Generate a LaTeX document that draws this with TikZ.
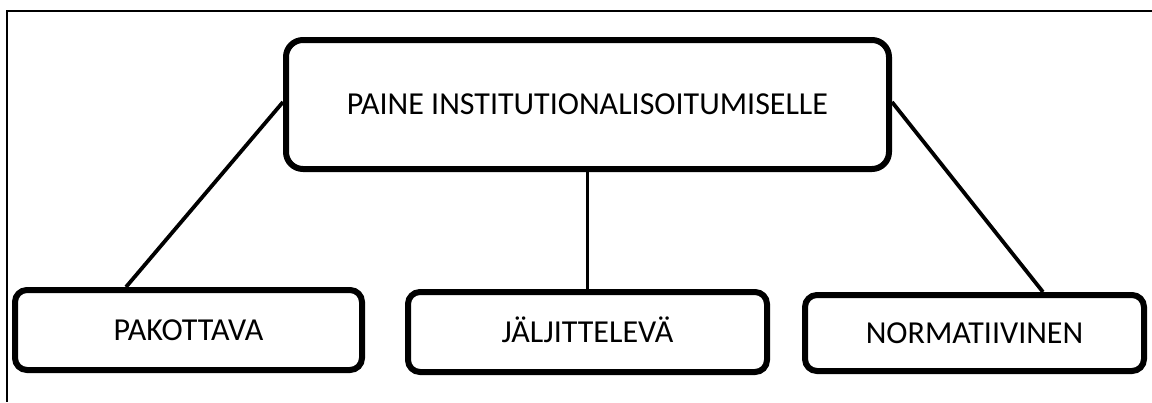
\documentclass[tikz,border=0pt]{standalone}
\usepackage{fontspec}
\setmainfont{Carlito}
\begin{document}
\begin{tikzpicture}[x=1pt,y=-1pt,
  box/.style={draw=black,line width=6pt,rounded corners=#1,inner sep=0pt,
    text height=20pt,text depth=0pt,font=\fontsize{32}{38}\selectfont},
  box/.default=12pt,
  link/.style={draw=black,line width=3.8pt},
  frame/.style={draw=black,line width=2.5pt}]
\useasboundingbox (0,0) rectangle (1152,402);

% outer frame (top and left edges)
\coordinate (fr1) at (1152,11);
\coordinate (fr2) at (7,11);
\coordinate (fr3) at (7,402);
\draw[frame] (fr1) -- (fr2) -- (fr3);

% boxes
\node[box=17pt,minimum width=603pt,minimum height=129pt] (top) at (587.5,104.5)
  {PAINE INSTITUTIONALISOITUMISELLE};
\node[box,minimum width=347pt,minimum height=80pt] (pak) at (188.5,330) {PAKOTTAVA};
\node[box,minimum width=359pt,minimum height=80pt] (jal) at (587.5,332) {JÄLJITTELEVÄ};
\node[box,minimum width=339pt,minimum height=76pt] (norm) at (974.5,333) {NORMATIIVINEN};

% connectors
\draw[link] ([yshift=2.5pt]top.west) -- ([xshift=114pt]pak.north west);
\draw[link,line width=3.5pt] (top.south) -- (jal.north);
\draw[link] ([yshift=2.5pt]top.east) -- ([xshift=-104pt]norm.north east);
\end{tikzpicture}
\end{document}
